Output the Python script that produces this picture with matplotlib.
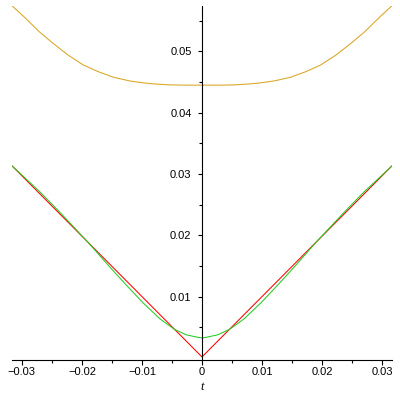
import matplotlib
matplotlib.use("Agg")
import matplotlib.pyplot as plt

# values
t_orange = [-0.0316, -0.0296, -0.0271, -0.0248, -0.0223, -0.0198, -0.0173, -0.0148,
            -0.0121, -0.0100, -0.0080, -0.0055, -0.0030, 0.0,
            0.0030, 0.0055, 0.0080, 0.0100, 0.0121, 0.0148, 0.0173, 0.0198,
            0.0223, 0.0248, 0.0271, 0.0296, 0.0316]
orange = [0.0574, 0.0556, 0.0532, 0.0513, 0.0494, 0.0478, 0.0467, 0.0458,
          0.0452, 0.0449, 0.0447, 0.04455, 0.0445, 0.0445,
          0.0445, 0.04455, 0.0447, 0.0449, 0.0452, 0.0458, 0.0467, 0.0478,
          0.0494, 0.0513, 0.0532, 0.0556, 0.0574]

t_green = [-0.0316, -0.0270, -0.0237, -0.0190, -0.0154, -0.0126, -0.0098, -0.0070,
           -0.0046, -0.0026, -0.0007, 0.0, 0.0007, 0.0026, 0.0046, 0.0070, 0.0098,
           0.0126, 0.0154, 0.0190, 0.0237, 0.0270, 0.0316]
green = [0.0313, 0.0271, 0.0238, 0.0189, 0.0149, 0.0119, 0.0090, 0.0064,
         0.0047, 0.0038, 0.0034, 0.0033, 0.0034, 0.0038, 0.0047, 0.0064, 0.0090,
         0.0119, 0.0149, 0.0189, 0.0238, 0.0271, 0.0313]

t_red = [-0.0316, 0.0, 0.0316]
red = [0.0313, 0.0002, 0.0313]

xticks = [-0.03, -0.02, -0.01, 0, 0.01, 0.02, 0.03]
xlabels = ['−0.03', '−0.02', '−0.01', '0', '0.01', '0.02', '0.03']
yticks = [0.01, 0.02, 0.03, 0.04, 0.05]
ylabels = ['0.01', '0.02', '0.03', '0.04', '0.05']

plt.rcParams['font.family'] = ['Liberation Sans', 'DejaVu Sans']

fig = plt.figure(figsize=(4, 4), dpi=100)
ax = fig.add_axes([12.3 / 400, 40 / 400, 379.4 / 400, 354 / 400])

lw = 0.75
ax.plot(t_orange, orange, color='#DAA520', lw=lw)
ax.plot(t_red, red, color='#FF0000', lw=lw)
ax.plot(t_green, green, color='#22CC22', lw=lw)

ax.set_xlim(-0.0316, 0.0316)
ax.set_ylim(-0.0003, 0.0574)

for s in ['top', 'right']:
    ax.spines[s].set_visible(False)
ax.spines['left'].set_position(('data', 0))
ax.spines['left'].set_linewidth(0.8)
ax.spines['bottom'].set_linewidth(0.8)

ax.set_xticks(xticks)
ax.set_xticklabels(xlabels)
ax.set_xticks([-0.025, -0.015, -0.005, 0.005, 0.015, 0.025], minor=True)
ax.set_yticks(yticks)
ax.set_yticklabels(ylabels)
ax.set_yticks([0.005, 0.015, 0.025, 0.035, 0.045, 0.055], minor=True)

ax.tick_params(axis='x', which='major', direction='out', length=3.6, width=0.8,
               pad=1.5, labelsize=8)
ax.tick_params(axis='x', which='minor', direction='out', length=2.2, width=0.8)
ax.tick_params(axis='y', which='major', direction='out', length=3, width=0.8,
               pad=4.5, labelsize=8)
ax.tick_params(axis='y', which='minor', direction='out', length=2.2, width=0.8)

ax.set_xlabel('t', fontstyle='italic', family=['Liberation Serif'], fontsize=9,
              labelpad=3)

fig.savefig('out.png', dpi=100)
